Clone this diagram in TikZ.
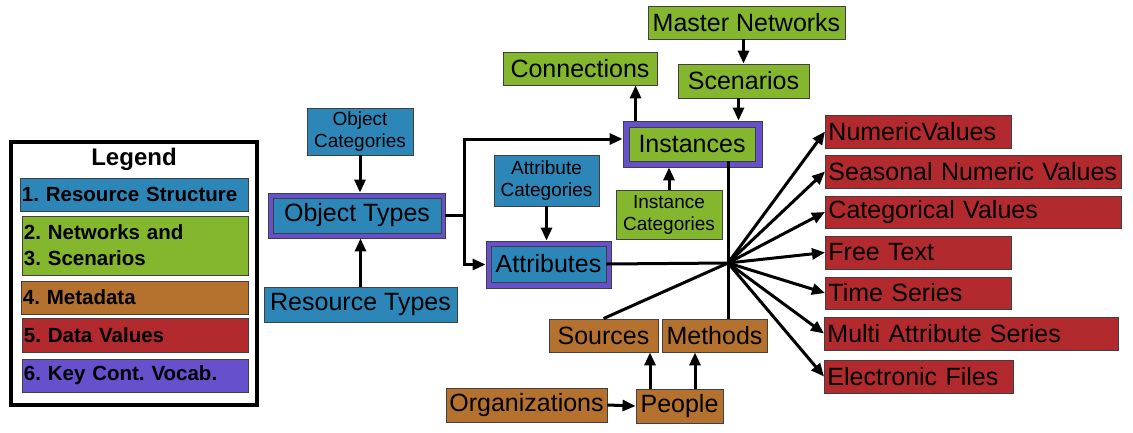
\documentclass[tikz,border=0pt]{standalone}
\usepackage{fontspec}
\setmainfont{Liberation Sans}
\usetikzlibrary{arrows.meta,calc}
\frenchspacing
\definecolor{cblue}{RGB}{44,134,184}
\definecolor{cgreen}{RGB}{132,182,46}
\definecolor{cbrown}{RGB}{181,113,46}
\definecolor{cred}{RGB}{178,42,46}
\definecolor{cpurple}{RGB}{102,80,204}
\tikzset{
  box/.style={draw=black!75, line width=0.9pt, inner sep=0pt, align=center, font=\fontsize{25}{29}\selectfont},
  sbox/.style={box, font=\fontsize{19}{22}\selectfont},
  outerbox/.style={draw=black!75, line width=0.9pt, fill=cpurple, inner sep=0pt},
  lbox/.style={draw=black!75, line width=0.9pt, inner ysep=0pt, inner xsep=3pt, align=left, anchor=west, font=\fontsize{25}{29}\selectfont},
  legitem/.style={draw=black!75, line width=0.9pt, inner ysep=0pt, inner xsep=1.5pt, align=left, anchor=west, font=\fontsize{20.5}{26}\bfseries\selectfont},
  conn/.style={line width=3pt, black},
  arr/.style={conn, -{Triangle[length=13pt,width=11pt]}},
}
\begin{document}
\begin{tikzpicture}[x=1pt,y=-1pt]
\useasboundingbox (0,0) rectangle (1133,432);
% Legend
\node[draw=black, line width=3.5pt, minimum width=246pt, minimum height=263pt, inner sep=0pt] (legend) at (134,273.5) {};
\node[font=\fontsize{24}{28}\bfseries\selectfont, inner sep=0pt] (legtitle) at (134,159) {Legend};
\node[legitem, fill=cblue, text width=225pt, minimum height=33pt] (l1) at (20,194.5) {1. Resource Structure};
\node[legitem, fill=cgreen, text width=223pt, minimum height=59pt] (l2) at (22,245.5) {2. Networks and\\3. Scenarios};
\node[legitem, fill=cbrown, text width=224pt, minimum height=33pt] (l3) at (21,297.5) {4. Metadata};
\node[legitem, fill=cred, text width=223pt, minimum height=34pt] (l4) at (22,335) {5. Data Values};
\node[legitem, fill=cpurple, text width=223pt, minimum height=33pt] (l5) at (22,375.5) {6. Key Cont. Vocab.};
% Resource structure
\node[sbox, fill=cblue, minimum width=106pt, minimum height=47pt] (objcat) at (360,131.5) {Object\\Categories};
\node[outerbox, minimum width=177pt, minimum height=45pt] (otO) at (356.5,215.5) {};
\node[box, fill=cblue, minimum width=168pt, minimum height=35pt] (ot) at (357,215.5) {Object Types};
\node[box, fill=cblue, minimum width=193pt, minimum height=35pt] (rt) at (360.5,304.5) {Resource Types};
\node[sbox, fill=cblue, minimum width=105pt, minimum height=51pt] (attcat) at (546.5,180.5) {Attribute\\Categories};
\node[outerbox, minimum width=125pt, minimum height=47pt] (attO) at (548.5,264.5) {};
\node[box, fill=cblue, minimum width=115pt, minimum height=36pt] (att) at (548.5,264) {Attributes};
% Networks
\node[box, fill=cgreen, minimum width=197pt, minimum height=33pt] (master) at (746.5,22.5) {Master Networks};
\node[box, fill=cgreen, minimum width=154pt, minimum height=33pt] (connx) at (580,68.5) {Connections};
\node[box, fill=cgreen, minimum width=131pt, minimum height=34pt] (scen) at (743.5,81) {Scenarios};
\node[outerbox, minimum width=139pt, minimum height=46pt] (instO) at (692.5,144) {};
\node[box, fill=cgreen, minimum width=126pt, minimum height=34pt] (inst) at (692,144) {Instances};
\node[sbox, fill=cgreen, minimum width=106pt, minimum height=49pt] (instcat) at (669,214.5) {Instance\\Categories};
% Metadata
\node[box, fill=cbrown, minimum width=109pt, minimum height=33pt] (sources) at (603.5,335.5) {Sources};
\node[box, fill=cbrown, minimum width=105pt, minimum height=33pt] (methods) at (714.5,335.5) {Methods};
\node[box, fill=cbrown, minimum width=161pt, minimum height=34pt] (org) at (526.5,405) {Organizations};
\node[box, fill=cbrown, minimum width=87pt, minimum height=34pt] (people) at (679.5,406) {People};
% Data values
\node[lbox, fill=cred, text width=180pt, minimum height=33pt] (v1) at (825,131.5) {NumericValues};
\node[lbox, fill=cred, text width=290pt, minimum height=33pt] (v2) at (825,171.5) {Seasonal Numeric Values};
\node[lbox, fill=cred, text width=290pt, minimum height=32pt] (v3) at (825,212) {Categorical Values};
\node[lbox, fill=cred, text width=180pt, minimum height=33pt] (v4) at (825,252.5) {Free Text};
\node[lbox, fill=cred, text width=180pt, minimum height=32pt] (v5) at (825,293) {Time Series};
\node[lbox, fill=cred, text width=288pt, minimum height=33pt] (v6) at (824,333.5) {Multi Attribute Series};
\node[lbox, fill=cred, text width=183pt, minimum height=33pt] (v7) at (824,376.5) {Electronic Files};
% Coordinates
\coordinate (hub) at (728,263);
\coordinate (jn) at (464,215.5);
% Connectors
\draw[arr] (objcat.south) -- (objcat.south |- otO.north);
\draw[arr] (rt.north) -- (rt.north |- otO.south);
\draw[conn] (otO.east) -- (jn);
\draw[arr] (jn) |- ([yshift=5pt]instO.west);
\draw[arr] (jn) |- (attO.west);
\draw[arr] (attcat.south) -- (attcat.south |- attO.north);
\draw[arr] (scen.north |- master.south) -- (scen.north);
\draw[arr] ([xshift=-5pt]scen.south) -- ([xshift=-5pt]scen.south |- instO.north);
\draw[arr] ([xshift=13pt]instO.north west) -- ([xshift=13pt]instO.north west |- connx.south);
\draw[arr] (instcat.north) -- (instcat.north |- instO.south);
\draw[conn] (hub |- inst.south) -- (hub |- methods.north);
\draw[conn] (sources.north) -- (hub);
\draw[conn] (att.east) -- (hub);
\foreach \v in {v1,v2,v3,v4,v5,v6,v7}{\draw[arr] (hub) -- (\v.west);}
\draw[arr] (org.east) -- (people.west);
\draw[arr] ([xshift=-29.5pt]people.north) -- ([xshift=-29.5pt]people.north |- sources.south);
\draw[arr] ([xshift=15.5pt]people.north) -- ([xshift=15.5pt]people.north |- methods.south);
\end{tikzpicture}
\end{document}
